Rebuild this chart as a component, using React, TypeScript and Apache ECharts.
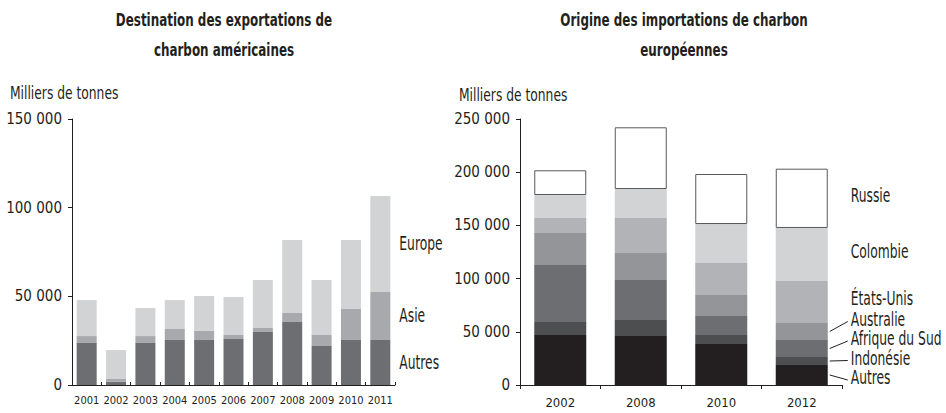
import React, { useEffect, useRef } from "react";
import * as echarts from "echarts";

// ---- Left chart: destination of US coal exports (thousand tonnes) ----
const years = ["2001", "2002", "2003", "2004", "2005", "2006", "2007", "2008", "2009", "2010", "2011"];
const usAutres = [23700, 1900, 23700, 25400, 25400, 25900, 29900, 35500, 22000, 25400, 25400];
const usAsie = [3900, 1500, 3900, 6200, 5100, 2300, 2200, 5100, 6200, 17500, 27100];
const usEurope = [20300, 16300, 15800, 16300, 19700, 21400, 27100, 41200, 31000, 38900, 54100];

// ---- Right chart: origin of European coal imports (thousand tonnes) ----
const periods = ["2002", "2008", "2010", "2012"];
const euAutres = [47000, 46100, 38500, 18800];
const euIndonesie = [12200, 15000, 8500, 7500];
const euAfriqueSud = [53600, 37600, 17800, 16000];
const euAustralie = [30100, 25400, 19800, 16000];
const euEtatsUnis = [14100, 32900, 30100, 39400];
const euColombie = [21600, 27200, 36600, 49900];
const euRussie = [23200, 58000, 47000, 55700];

const leftTicks = [0, 50000, 100000, 150000];
const rightTicks = [0, 50000, 100000, 150000, 200000, 250000];

const FONT = "'Liberation Sans Narrow', 'DejaVu Sans Condensed', 'Roboto', sans-serif";
const INK = "#231f20";

const fmt = (v: number) => (v === 0 ? "0" : String(v).replace(/\B(?=(\d{3})+(?!\d))/g, " "));

export default function App() {
  const ref = useRef<HTMLDivElement>(null);

  useEffect(() => {
    if (!ref.current) return;
    const chart = echarts.init(ref.current, null, { renderer: "svg" });

    const LEFT_BAR = 20;
    const RIGHT_BAR = 52;

    const leftDefs = [
      { name: "Autres", data: usAutres, color: "#6d6e71" },
      { name: "Asie", data: usAsie, color: "#a7a9ac" },
      { name: "Europe", data: usEurope, color: "#d1d3d4" },
    ];
    const leftSeries = leftDefs.map((s) => ({
      name: s.name,
      type: "bar",
      stack: "us",
      xAxisIndex: 0,
      yAxisIndex: 0,
      barWidth: LEFT_BAR,
      itemStyle: { color: s.color },
      data: s.data,
    }));

    const rightDefs = [
      { name: "Autres", data: euAutres, color: "#231f20" },
      { name: "Indonésie", data: euIndonesie, color: "#4d4e50" },
      { name: "Afrique du Sud", data: euAfriqueSud, color: "#6d6e71" },
      { name: "Australie", data: euAustralie, color: "#939598" },
      { name: "États-Unis", data: euEtatsUnis, color: "#b1b3b6" },
      { name: "Colombie", data: euColombie, color: "#d1d3d4" },
      { name: "Russie", data: euRussie, color: "#ffffff" },
    ];
    const rightSeries = rightDefs.map((s) => ({
      name: s.name,
      type: "bar",
      stack: "eu",
      xAxisIndex: 1,
      yAxisIndex: 1,
      barWidth: RIGHT_BAR,
      itemStyle:
        s.name === "Russie"
          ? { color: s.color, borderColor: "#58595b", borderWidth: 1 }
          : { color: s.color },
      data: s.data,
    }));

    const axisLine = { show: true, lineStyle: { color: INK, width: 1 } };

    chart.setOption({
      animation: false,
      textStyle: { fontFamily: FONT },
      grid: [
        { left: 72, right: 551, top: 119, bottom: 28 },
        { left: 520, right: 104, top: 119, bottom: 28 },
      ],
      xAxis: [
        {
          gridIndex: 0,
          type: "category",
          data: years,
          axisLine,
          axisTick: { show: true, inside: true, length: 3, lineStyle: { color: INK } },
          axisLabel: { interval: 0, fontSize: 11, color: INK, fontFamily: FONT, margin: 10 },
        },
        {
          gridIndex: 1,
          type: "category",
          data: periods,
          axisLine,
          axisTick: { show: true, length: 4, lineStyle: { color: INK } },
          axisLabel: { interval: 0, fontSize: 13, color: INK, fontFamily: FONT, margin: 11 },
        },
      ],
      yAxis: [
        {
          gridIndex: 0,
          type: "value",
          min: leftTicks[0],
          max: leftTicks[leftTicks.length - 1],
          interval: leftTicks[1] - leftTicks[0],
          axisLine,
          axisTick: { show: true, length: 4, lineStyle: { color: INK } },
          splitLine: { show: false },
          axisLabel: { formatter: fmt, fontSize: 15, color: INK, fontFamily: FONT, margin: 10 },
        },
        {
          gridIndex: 1,
          type: "value",
          min: rightTicks[0],
          max: rightTicks[rightTicks.length - 1],
          interval: rightTicks[1] - rightTicks[0],
          axisLine,
          axisTick: { show: true, length: 4, lineStyle: { color: INK } },
          splitLine: { show: false },
          axisLabel: { formatter: fmt, fontSize: 15, color: INK, fontFamily: FONT, margin: 10 },
        },
      ],
      series: [...leftSeries, ...rightSeries],
    });

    const label = (text: string, x: number, y: number, size = 19, squeeze = 0.72) => ({
      type: "text",
      x,
      y,
      scaleX: squeeze,
      silent: true,
      style: {
        text,
        fill: INK,
        font: `${size}px ${FONT}`,
        textAlign: "left",
        textVerticalAlign: "middle",
      },
    });

    const graphics: any[] = [];

    // Left chart: labels beside the last bar, at each segment's middle
    {
      const li = years.length - 1;
      const toPx = (v: number) =>
        chart.convertToPixel({ xAxisIndex: 0, yAxisIndex: 0 }, [li, v]) as number[];
      const xRight = toPx(0)[0] + LEFT_BAR / 2;
      let cum = 0;
      leftDefs.forEach((s) => {
        const lo = cum;
        const hi = cum + s.data[li];
        cum = hi;
        graphics.push(label(s.name, xRight + 9, toPx((lo + hi) / 2)[1]));
      });
    }

    // Right chart
    {
      const li = periods.length - 1;
      const toPx = (v: number) =>
        chart.convertToPixel({ xAxisIndex: 1, yAxisIndex: 1 }, [li, v]) as number[];
      const zero = toPx(0);
      const barRight = zero[0] + RIGHT_BAR / 2;
      const labelX = barRight + 23;
      let cum = 0;
      rightDefs.forEach((s, k) => {
        const lo = cum;
        const hi = cum + s.data[li];
        cum = hi;
        const midY = toPx((lo + hi) / 2)[1];
        if (k < 4) {
          const ly = zero[1] - 7 - k * 19.5;
          graphics.push({
            type: "line",
            silent: true,
            shape: { x1: barRight + 2, y1: midY, x2: labelX - 3, y2: ly + 2 },
            style: { stroke: INK, lineWidth: 1 },
          });
          graphics.push(label(s.name, labelX, ly));
        } else {
          graphics.push(label(s.name, labelX, midY - 3));
        }
      });
    }

    const leftTop = chart.convertToPixel({ xAxisIndex: 0, yAxisIndex: 0 }, [0, leftTicks[leftTicks.length - 1]]) as number[];
    const rightTop = chart.convertToPixel({ xAxisIndex: 1, yAxisIndex: 1 }, [0, rightTicks[rightTicks.length - 1]]) as number[];

    const title = (text: string, x: number) => ({
      type: "text",
      x,
      y: 5,
      scaleX: 0.78,
      silent: true,
      style: {
        text,
        fill: INK,
        font: `bold 17px ${FONT}`,
        lineHeight: 30,
        textAlign: "center",
        textVerticalAlign: "top",
      },
    });

    chart.setOption({
      graphic: [
        title("Destination des exportations de\ncharbon américaines", 224),
        title("Origine des importations de charbon\neuropéennes", 684),
        label("Milliers de tonnes", 10, leftTop[1] - 26, 18, 0.76),
        label("Milliers de tonnes", 459, rightTop[1] - 24, 18, 0.76),
        ...graphics,
      ],
    });

    return () => chart.dispose();
  }, []);

  return (
    <div
      ref={ref}
      style={{ position: "fixed", left: 0, top: 0, width: 946, height: 413, background: "#fff" }}
    />
  );
}
